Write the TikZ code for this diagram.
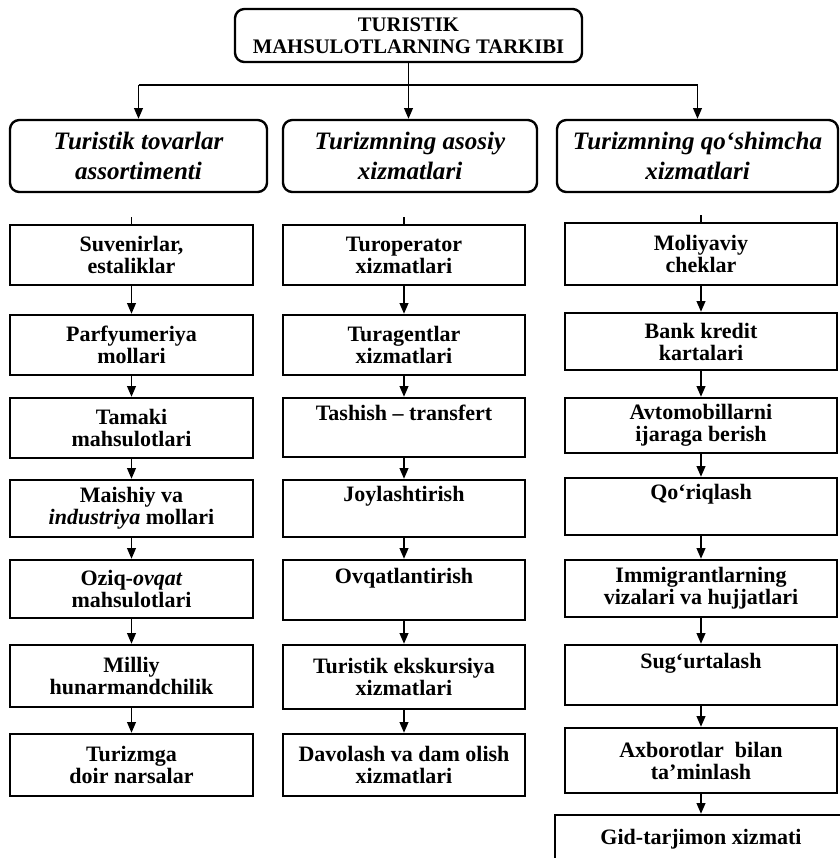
\documentclass[tikz,border=0pt]{standalone}
\usepackage{fontspec}
\setmainfont{Liberation Serif}
\usetikzlibrary{arrows.meta}
\begin{document}
\begin{tikzpicture}[x=0.75pt,y=-0.75pt,
  cell/.style 2 args={draw, line width=1.8pt, minimum width=#1*0.75pt, minimum height=#2*0.75pt,
    inner sep=0pt, align=center, font=\fontsize{16.5}{16.5}\selectfont\bfseries},
  headbox/.style 2 args={draw, line width=1.8pt, rounded corners=7pt, minimum width=#1*0.75pt,
    minimum height=#2*0.75pt, inner sep=0pt, align=center, font=\fontsize{18.8}{22.5}\selectfont\bfseries\itshape},
  topbox/.style 2 args={draw, line width=1.8pt, rounded corners=7pt, minimum width=#1*0.75pt,
    minimum height=#2*0.75pt, inner sep=0pt, align=center, font=\fontsize{15.5}{16.5}\selectfont\bfseries},
  conn/.style={line width=1.3pt},
  arr/.style={conn, -{Triangle[length=8pt,width=6.5pt]}},
  stub/.style={line width=0.8pt}]
\useasboundingbox (0,0) rectangle (840,858);
\clip (0,0) rectangle (840,858);

% top
\node[topbox={347}{53}] (top) at (408.5,35.5) {TURISTIK\\MAHSULOTLARNING TARKIBI};

% level 2
\node[headbox={257}{72}] (ha) at (138.5,156) {Turistik tovarlar\\assortimenti};
\node[headbox={254}{72}] (hb) at (410,156) {Turizmning asosiy\\xizmatlari};
\node[headbox={281}{72}] (hc) at (697.5,156) {Turizmning qo‘shimcha\\xizmatlari};

\coordinate (bus) at (408.5,85);
\coordinate (hl) at (138.5,85);
\coordinate (hr) at (697.5,85);
\draw[conn] (top.south) -- (bus);
\draw[conn] (hl) -- (hr);
\draw[arr] (hl) -- (ha.north);
\draw[arr] (bus) -- (bus |- hb.north);
\draw[arr] (hr) -- (hc.north);

% left column
\node[cell={243}{60}] (a1) at (131.5,255) {Suvenirlar,\\estaliklar};
\node[cell={243}{60}] (a2) at (131.5,345) {Parfyumeriya\\mollari};
\node[cell={243}{60}] (a3) at (131.5,428) {Tamaki\\mahsulotlari};
\node[cell={243}{57}] (a4) at (131.5,508.5) {Maishiy va\\\textit{industriya} mollari};
\node[cell={243}{58}] (a5) at (131.5,589) {Oziq-\textit{ovqat}\\mahsulotlari};
\node[cell={243}{62}] (a6) at (131.5,676) {Milliy\\hunarmandchilik};
\node[cell={243}{62}] (a7) at (131.5,765) {Turizmga\\doir narsalar};

% centre column
\node[cell={242}{60}] (b1) at (404,255) {Turoperator\\xizmatlari};
\node[cell={242}{60}] (b2) at (404,345) {Turagentlar\\xizmatlari};
\node[cell={242}{59}] (b3) at (404,427.5) {Tashish – transfert\\\strut};
\node[cell={242}{57}] (b4) at (404,508.5) {Joylashtirish\\\strut};
\node[cell={242}{60}] (b5) at (404,590) {Ovqatlantirish\\\strut};
\node[cell={242}{64}] (b6) at (404,677) {Turistik ekskursiya\\xizmatlari};
\node[cell={242}{62}] (b7) at (404,765) {Davolash va dam olish\\xizmatlari};

% right column
\node[cell={272}{62}] (c1) at (701,254) {Moliyaviy\\cheklar};
\node[cell={272}{57}] (c2) at (701,341.5) {Bank kredit\\kartalari};
\node[cell={272}{55}] (c3) at (701,425.5) {Avtomobillarni\\ijaraga berish};
\node[cell={272}{57}] (c4) at (701,506.5) {Qo‘riqlash\\\strut};
\node[cell={272}{57}] (c5) at (701,588.5) {Immigrantlarning\\vizalari va hujjatlari};
\node[cell={272}{60}] (c6) at (701,675) {Sug‘urtalash\\\strut};
\node[cell={272}{65}] (c7) at (701,760.5) {Axborotlar~ bilan\\ta’minlash};
\node[cell={292}{72}] (c8) at (701,851) {Gid-tarjimon xizmati\\\strut};

\foreach \p/\q in {a1/a2,a2/a3,a3/a4,a4/a5,a5/a6,a6/a7,
                   b1/b2,b2/b3,b3/b4,b4/b5,b5/b6,b6/b7,
                   c1/c2,c2/c3,c3/c4,c4/c5,c5/c6,c6/c7,c7/c8}
  \draw[arr] (\p.south) -- (\q.north);

% small ticks above the first boxes
\draw[stub] (a1.north) -- ++(0,-7);
\draw[stub] (b1.north) -- ++(0,-7);
\draw[stub] (c1.north) -- ++(0,-7);
\end{tikzpicture}
\end{document}
